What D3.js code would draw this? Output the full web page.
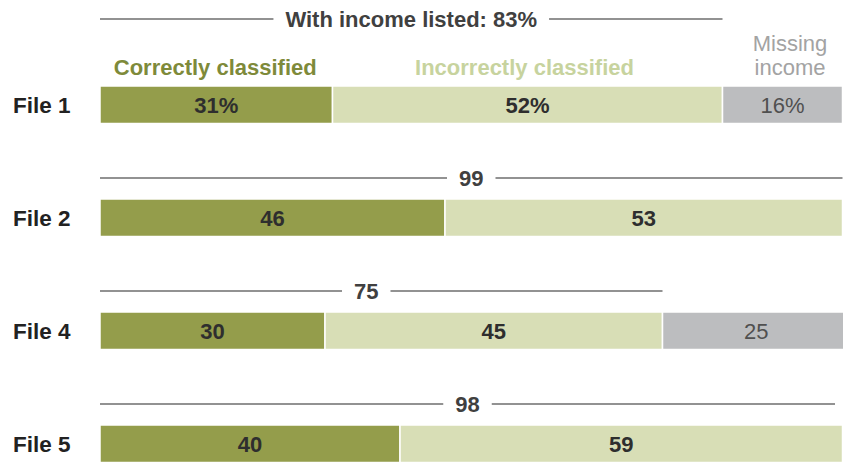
<!DOCTYPE html>
<html>
<head>
<meta charset="utf-8">
<script src="https://cdn.jsdelivr.net/npm/d3@7"></script>
<style>
  html, body { margin: 0; padding: 0; background: #fff; }
  svg { display: block; font-family: "Liberation Sans", Arial, sans-serif; }
</style>
</head>
<body>
<svg id="chart" width="843" height="462"></svg>
<script>
// Share of records whose income was correctly / incorrectly classified, by file
const files = ["File 1", "File 2", "File 4", "File 5"];
const correct = [31, 46, 30, 40];
const incorrect = [52, 53, 45, 59];
const missing = [16, 0, 25, 0];
const withIncome = [83, 99, 75, 98];
const seriesNames = ["Correctly classified", "Incorrectly classified", "Missing income"];

const colors = {
  correct: "#949d4b",
  incorrect: "#d8deb6",
  missing: "#bcbdbf",
  correctText: "#7e8a3a",
  incorrectText: "#c7d39e",
  missingText: "#a3a3a3"
};

// label nudges for bracket captions (px)
const captionNudge = [0, 0, -15, 0];

const svg = d3.select("#chart");

const x = d3.scaleLinear().domain([0, 100]).range([100, 850]);
const y = d3.scaleBand()
  .domain(files)
  .range([86, 86 + 113 * 3 + 37.5])
  .paddingInner(1 - 37.5 / 113)
  .paddingOuter(0);
const bh = y.bandwidth();

const rows = files.map((f, i) => ({
  file: f,
  i,
  segs: [
    { key: "correct", start: 0, value: correct[i] },
    { key: "incorrect", start: correct[i], value: incorrect[i] },
    { key: "missing", start: correct[i] + incorrect[i], value: missing[i] }
  ].filter(s => s.value > 0),
  total: withIncome[i]
}));

// Bracket lines above each bar, spanning the "with income" portion
rows.forEach(r => {
  const top = y(r.file);
  const by = r.i === 0 ? top - 67 : top - 21;
  const x0 = x(0), x1 = x(r.total);
  const cx = (x0 + x1) / 2 + captionNudge[r.i];
  const label = r.i === 0 ? `With income listed: ${r.total}%` : `${r.total}`;
  const g = svg.append("g");
  const t = g.append("text")
    .attr("x", cx).attr("y", by)
    .attr("dy", "0.36em")
    .attr("text-anchor", "middle")
    .attr("font-size", 22).attr("font-weight", "bold")
    .attr("fill", "#404040")
    .text(label);
  const w = t.node().getComputedTextLength();
  const gap = 12;
  g.append("line")
    .attr("x1", x0).attr("x2", cx - w / 2 - gap)
    .attr("y1", by).attr("y2", by)
    .attr("stroke", "#6e6e6e").attr("stroke-width", 1.6);
  g.append("line")
    .attr("x1", cx + w / 2 + gap).attr("x2", x1)
    .attr("y1", by).attr("y2", by)
    .attr("stroke", "#6e6e6e").attr("stroke-width", 1.6);
});

// Series labels above the first bar
const r0 = rows[0];
const legendY = y(files[0]) - 11;
svg.append("text")
  .attr("x", (x(0) + x(r0.segs[0].value)) / 2 - 1).attr("y", legendY)
  .attr("text-anchor", "middle").attr("font-size", 22).attr("font-weight", "bold")
  .attr("fill", colors.correctText).text(seriesNames[0]);
svg.append("text")
  .attr("x", (x(r0.segs[1].start) + x(r0.segs[1].start + r0.segs[1].value)) / 2 - 3).attr("y", legendY)
  .attr("text-anchor", "middle").attr("font-size", 22).attr("font-weight", "bold")
  .attr("fill", colors.incorrectText).text(seriesNames[1]);
const missText = svg.append("text")
  .attr("x", 790).attr("y", legendY - 24)
  .attr("text-anchor", "middle").attr("font-size", 22)
  .attr("fill", colors.missingText);
missText.append("tspan").attr("x", 790).text("Missing");
missText.append("tspan").attr("x", 790).attr("dy", 24).text("income");

// Row labels
svg.selectAll("text.row")
  .data(rows).join("text")
  .attr("class", "row")
  .attr("x", 13)
  .attr("y", d => y(d.file) + bh / 2)
  .attr("dy", "0.36em")
  .attr("font-size", 22.5).attr("font-weight", "bold")
  .attr("fill", "#222")
  .text(d => d.file);

// Stacked bars
const bars = svg.selectAll("g.bar")
  .data(rows).join("g")
  .attr("class", "bar")
  .attr("transform", d => `translate(0,${y(d.file)})`);

bars.selectAll("rect")
  .data(d => d.segs).join("rect")
  .attr("x", s => x(s.start))
  .attr("y", 0)
  .attr("width", s => x(s.start + s.value) - x(s.start))
  .attr("height", bh)
  .attr("fill", s => colors[s.key])
  .attr("stroke", "#fff").attr("stroke-width", 1.5);

bars.selectAll("text")
  .data(d => d.segs.map(s => ({ ...s, first: d.i === 0 }))).join("text")
  .attr("x", s => (x(s.start) + x(s.start + s.value)) / 2)
  .attr("y", bh / 2)
  .attr("dy", "0.36em")
  .attr("text-anchor", "middle")
  .attr("font-size", 22)
  .attr("font-weight", s => s.key === "missing" ? "normal" : "bold")
  .attr("fill", s => s.key === "missing" ? "#505050" : "#2e2e2e")
  .text(s => s.value + (s.first ? "%" : ""));
</script>
</body>
</html>
